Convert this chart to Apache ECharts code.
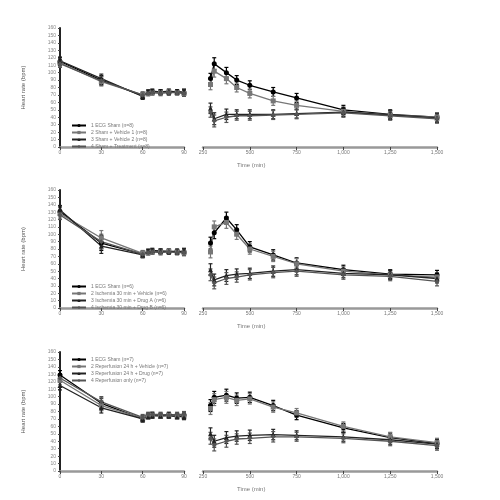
<!DOCTYPE html>
<html>
<head>
<meta charset="utf-8">
<script src="https://cdn.jsdelivr.net/npm/echarts@6/dist/echarts.min.js"></script>
<style>html,body{margin:0;background:#fff}#main{width:500px;height:500px}</style>
</head>
<body>
<div id="main"></div>
<script>
// time points (min), broken axis: left part and right part
var leftX = [0, 30, 60, 64, 67, 73, 79, 85, 90];
var rightX = [290, 310, 375, 430, 500, 625, 750, 1000, 1250, 1500];
var yTicks = [0, 160, 10];

// panel 1
var p1Names = ["1 ECG Sham (n=8)", "2 Sham + Vehicle 1 (n=8)", "3 Sham + Vehicle 2 (n=8)", "4 Sham + Treatment (n=8)"];
var p1Left = [
  [115, 90, 69, 73, 74, 74, 73, 74, 73],
  [113, 88, 70, 72, 73, 73, 74, 73, 72],
  [116, 92, 68, 74, 75, 74, 75, 74, 74],
  [112, 89, 70, 72, 73, 72, 73, 73, 72]
];
var p1Right = [
  [92, 112, 100, 90, 83, 74, 66, 50, 44, 40],
  [84, 102, 92, 80, 72, 62, 56, 48, 43, 40],
  [52, 38, 44, 44, 44, 44, 45, 47, 43, 39],
  [47, 35, 40, 42, 42, 43, 44, 46, 42, 38]
];
var p1ErrL = [5, 6, 4, 3, 3, 3, 3, 3, 4];
var p1ErrR = [7, 8, 7, 6, 6, 6, 6, 6, 6, 6];

// panel 2
var p2Names = ["1 ECG Sham (n=6)", "2 Ischemia 30 min + Vehicle (n=6)", "3 Ischemia 30 min + Drug A (n=6)", "4 Ischemia 30 min + Drug B (n=6)"];
var p2Left = [
  [131, 88, 73, 76, 77, 77, 76, 77, 76],
  [128, 95, 74, 75, 76, 76, 77, 76, 75],
  [133, 84, 72, 77, 78, 77, 77, 76, 77],
  [126, 90, 73, 75, 76, 75, 76, 75, 75]
];
var p2Right = [
  [88, 102, 122, 106, 83, 72, 61, 52, 46, 45],
  [76, 110, 116, 100, 80, 70, 60, 50, 45, 42],
  [52, 38, 44, 46, 47, 50, 52, 47, 45, 40],
  [45, 34, 40, 42, 45, 48, 50, 45, 43, 36]
];
var p2ErrL = [6, 10, 4, 3, 3, 3, 3, 3, 4];
var p2ErrR = [8, 8, 8, 7, 7, 7, 7, 6, 6, 6];

// panel 3
var p3Names = ["1 ECG Sham (n=7)", "2 Reperfusion 24 h + Vehicle (n=7)", "3 Reperfusion 24 h + Drug (n=7)", "4 Reperfusion only (n=7)"];
var p3Left = [
  [129, 91, 70, 75, 76, 75, 76, 75, 75],
  [122, 88, 71, 74, 75, 74, 75, 74, 74],
  [115, 85, 70, 73, 74, 74, 74, 73, 73],
  [125, 93, 72, 76, 76, 76, 75, 76, 76]
];
var p3Right = [
  [88, 99, 102, 98, 99, 88, 75, 58, 45, 37],
  [84, 96, 99, 95, 97, 86, 78, 60, 46, 38],
  [50, 40, 45, 47, 48, 49, 48, 46, 42, 36],
  [44, 35, 40, 43, 44, 46, 46, 44, 40, 34]
];
var p3ErrL = [6, 7, 4, 3, 3, 3, 3, 3, 4];
var p3ErrR = [8, 8, 8, 7, 7, 7, 6, 6, 6, 6];

var chart = echarts.init(document.getElementById("main"));

var panels = [
  { top: 28, bottom: 147, legendTop: 118, names: p1Names, left: p1Left, right: p1Right, errL: p1ErrL, errR: p1ErrR },
  { top: 190, bottom: 308, legendTop: 279, names: p2Names, left: p2Left, right: p2Right, errL: p2ErrL, errR: p2ErrR },
  { top: 352, bottom: 471, legendTop: 352, names: p3Names, left: p3Left, right: p3Right, errL: p3ErrL, errR: p3ErrR }
];
var styles = [
  { color: "#000", symbol: "circle" },
  { color: "#777", symbol: "rect" },
  { color: "#222", symbol: "triangle" },
  { color: "#555", symbol: "diamond" }
];
var font = "Liberation Sans";

var grid = [], xAxis = [], yAxis = [], series = [], legend = [], title = [];

// error bar drawing
function errBar(params, api) {
  var x = api.value(0), y = api.value(1), e = api.value(2);
  var hi = api.coord([x, y + e]);
  var lo = api.coord([x, y - e]);
  var style = { stroke: api.visual("color"), lineWidth: 1.2 };
  return {
    type: "group",
    children: [
      { type: "line", shape: { x1: hi[0], y1: hi[1], x2: lo[0], y2: lo[1] }, style: style },
      { type: "line", shape: { x1: hi[0] - 2, y1: hi[1], x2: hi[0] + 2, y2: hi[1] }, style: style },
      { type: "line", shape: { x1: lo[0] - 2, y1: lo[1], x2: lo[0] + 2, y2: lo[1] }, style: style }
    ]
  };
}

panels.forEach(function (p, i) {
  var h = p.bottom - p.top;
  grid.push({ left: 60, top: p.top, width: 124, height: h });
  grid.push({ left: 203, top: p.top, width: 234, height: h });

  var xCommon = {
    type: "value",
    axisLine: { lineStyle: { color: "#999", width: 2.5 } },
    axisTick: { length: 3, lineStyle: { color: "#444" } },
    axisLabel: { fontSize: 5, color: "#777", margin: 3, fontFamily: font },
    splitLine: { show: false }
  };
  xAxis.push(Object.assign({ gridIndex: 2 * i, min: 0, max: 90, interval: 30 }, xCommon));
  xAxis.push(Object.assign({ gridIndex: 2 * i + 1, min: 250, max: 1500, interval: 250 }, xCommon));

  yAxis.push({
    type: "value", gridIndex: 2 * i, min: yTicks[0], max: yTicks[1], interval: yTicks[2],
    name: "Heart rate (bpm)", nameLocation: "middle", nameGap: 34,
    nameTextStyle: { fontSize: 6, color: "#555", fontFamily: font },
    axisLine: { show: true, lineStyle: { color: "#222", width: 2 } },
    axisTick: { length: 2, lineStyle: { color: "#444" } },
    axisLabel: { fontSize: 5, color: "#888", margin: 4, fontFamily: font },
    splitLine: { show: false }
  });
  yAxis.push({
    type: "value", gridIndex: 2 * i + 1, min: yTicks[0], max: yTicks[1], interval: yTicks[2],
    axisLine: { show: false }, axisTick: { show: false }, axisLabel: { show: false },
    splitLine: { show: false }
  });

  title.push({
    text: "Time (min)", left: 232, top: p.bottom + 10,
    textStyle: { fontSize: 6, fontWeight: "normal", color: "#777", fontFamily: font }
  });

  legend.push({
    data: p.names, left: 66, top: p.legendTop, orient: "vertical",
    itemWidth: 14, itemHeight: 4, itemGap: 2,
    textStyle: { fontSize: 5, color: "#777", fontFamily: font }
  });

  p.names.forEach(function (name, s) {
    var st = styles[s];
    [[leftX, p.left[s], p.errL, 2 * i], [rightX, p.right[s], p.errR, 2 * i + 1]].forEach(function (seg) {
      series.push({
        name: name, type: "line", xAxisIndex: seg[3], yAxisIndex: seg[3],
        data: seg[0].map(function (x, j) { return [x, seg[1][j]]; }),
        symbol: st.symbol, symbolSize: 5,
        lineStyle: { color: st.color, width: 1.3 },
        itemStyle: { color: st.color },
        z: 3
      });
      series.push({
        name: name, type: "custom", xAxisIndex: seg[3], yAxisIndex: seg[3],
        renderItem: errBar,
        data: seg[0].map(function (x, j) { return [x, seg[1][j], seg[2][j]]; }),
        itemStyle: { color: st.color },
        z: 2
      });
    });
  });
});

chart.setOption({
  animation: false,
  backgroundColor: "#fff",
  title: title,
  legend: legend,
  grid: grid,
  xAxis: xAxis,
  yAxis: yAxis,
  series: series
});
</script>
</body>
</html>
